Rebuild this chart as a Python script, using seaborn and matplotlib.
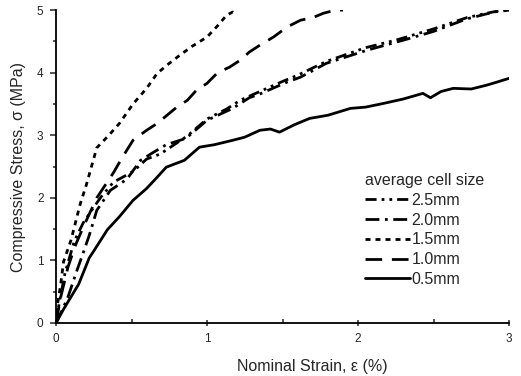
import numpy as np
import pandas as pd

import matplotlib
matplotlib.use('Agg')

import matplotlib.pyplot as plt
import seaborn as sns

# curves (strain in %, stress in MPa)
strain_25 = [0, 0.02, 0.06, 0.12, 0.18, 0.25, 0.3, 0.38, 0.51, 0.6, 0.69, 0.87, 1.0, 1.13, 1.22, 1.35, 1.5, 1.6, 1.79, 2.05, 2.25, 2.5, 2.72, 2.85, 3.0]
stress_25 = [0, 0.3, 0.8, 1.3, 1.6, 1.85, 2.02, 2.25, 2.42, 2.62, 2.7, 2.99, 3.26, 3.42, 3.56, 3.7, 3.86, 3.96, 4.18, 4.4, 4.52, 4.7, 4.88, 4.95, 5.02]

strain_20 = [0, 0.04, 0.08, 0.14, 0.18, 0.22, 0.27, 0.36, 0.47, 0.56, 0.64, 0.73, 0.86, 1.0, 1.17, 1.28, 1.35, 1.53, 1.62, 1.79, 2.06, 2.3, 2.5, 2.72, 2.9, 3.0]
stress_20 = [0, 0.2, 0.42, 0.85, 1.12, 1.4, 1.8, 2.12, 2.3, 2.6, 2.72, 2.85, 2.95, 3.24, 3.43, 3.6, 3.66, 3.85, 3.93, 4.15, 4.36, 4.52, 4.66, 4.86, 4.97, 5.0]

strain_15 = [0, 0.01, 0.03, 0.05, 0.1, 0.16, 0.2, 0.27, 0.35, 0.42, 0.51, 0.6, 0.67, 0.75, 0.82, 0.9, 1.0, 1.07, 1.13, 1.17, 1.2]
stress_15 = [0, 0.3, 0.6, 0.98, 1.33, 1.9, 2.2, 2.8, 3.0, 3.19, 3.5, 3.75, 3.99, 4.15, 4.28, 4.42, 4.57, 4.75, 4.92, 4.97, 4.92]

strain_10 = [0, 0.03, 0.08, 0.13, 0.18, 0.27, 0.38, 0.44, 0.51, 0.6, 0.67, 0.75, 0.8, 0.87, 0.93, 1.0, 1.07, 1.15, 1.22, 1.28, 1.35, 1.44, 1.53, 1.62, 1.7, 1.77, 1.85, 1.9]
stress_10 = [0, 0.4, 0.9, 1.25, 1.53, 2.0, 2.4, 2.65, 2.92, 3.08, 3.19, 3.35, 3.45, 3.56, 3.72, 3.83, 4.0, 4.09, 4.2, 4.33, 4.44, 4.57, 4.73, 4.84, 4.88, 4.95, 5.0, 5.0]

strain_05 = [0, 0.05, 0.1, 0.15, 0.22, 0.25, 0.34, 0.42, 0.51, 0.6, 0.67, 0.73, 0.85, 0.95, 1.05, 1.17, 1.25, 1.35, 1.42, 1.48, 1.58, 1.68, 1.8, 1.95, 2.05, 2.17, 2.3, 2.43, 2.48, 2.55, 2.63, 2.75, 2.85, 2.92, 3.0]
stress_05 = [0, 0.22, 0.42, 0.62, 1.04, 1.15, 1.49, 1.7, 1.96, 2.15, 2.33, 2.49, 2.6, 2.81, 2.85, 2.92, 2.97, 3.08, 3.1, 3.05, 3.17, 3.27, 3.32, 3.43, 3.45, 3.51, 3.58, 3.67, 3.6, 3.7, 3.75, 3.74, 3.8, 3.85, 3.91]

labels = ["2.5mm", "2.0mm", "1.5mm", "1.0mm", "0.5mm"]

sns.set_style("ticks")
plt.rcParams['font.family'] = ['Liberation Sans', 'DejaVu Sans']

fig = plt.figure(figsize=(5.21, 3.76), dpi=100)
ax = fig.add_axes([0.1075, 0.141, 0.8695, 0.832])

series = [
    (strain_25, stress_25, labels[0], (0, (4, 1.8, 1, 1.8, 1, 1.8))),
    (strain_20, stress_20, labels[1], (0, (5, 2, 1, 2))),
    (strain_15, stress_15, labels[2], (0, (1.8, 1.8))),
    (strain_10, stress_10, labels[3], (0, (6, 3.5))),
    (strain_05, stress_05, labels[4], "-"),
]
for x, y, lab, ls in series:
    sns.lineplot(x=x, y=y, ax=ax, color="black", lw=2.0, linestyle=ls,
                 label=lab, sort=False)

ax.set_xlim(0, 3)
ax.set_ylim(0, 5)
ax.set_xticks([0, 1, 2, 3])
ax.set_xticks([0.5, 1.5, 2.5], minor=True)
ax.set_yticks([0, 1, 2, 3, 4, 5])
ax.set_yticks(np.arange(0.5, 5, 1.0), minor=True)
sns.despine(ax=ax)
for side in ["left", "bottom"]:
    ax.spines[side].set_linewidth(1.3)
    ax.spines[side].set_color("black")
ax.tick_params(axis="x", which="major", direction="inout", length=5, width=1.1, labelsize=8.5, pad=5)
ax.tick_params(axis="x", which="minor", direction="in", length=3, width=1.1)
ax.tick_params(axis="y", which="major", direction="out", length=4, width=1.1, labelsize=8.5, pad=5)
ax.tick_params(axis="y", which="minor", direction="out", length=2, width=1.1)

ax.set_xlabel("Nominal Strain, \u03b5 (%)", fontsize=11.5, labelpad=10)
ax.xaxis.set_label_coords(0.565, -0.115)
ax.set_ylabel("Compressive Stress, \u03c3 (MPa)", fontsize=11.5, labelpad=8)

leg = ax.legend(title="average cell size", loc="upper left", bbox_to_anchor=(0.665, 0.505),
                frameon=False, fontsize=11.5, title_fontsize=11.5, handlelength=2.8,
                handletextpad=0.1, labelspacing=0.3, borderpad=0)
leg._legend_box.align = "left"

plt.savefig("out.png", dpi=100)
plt.close()
